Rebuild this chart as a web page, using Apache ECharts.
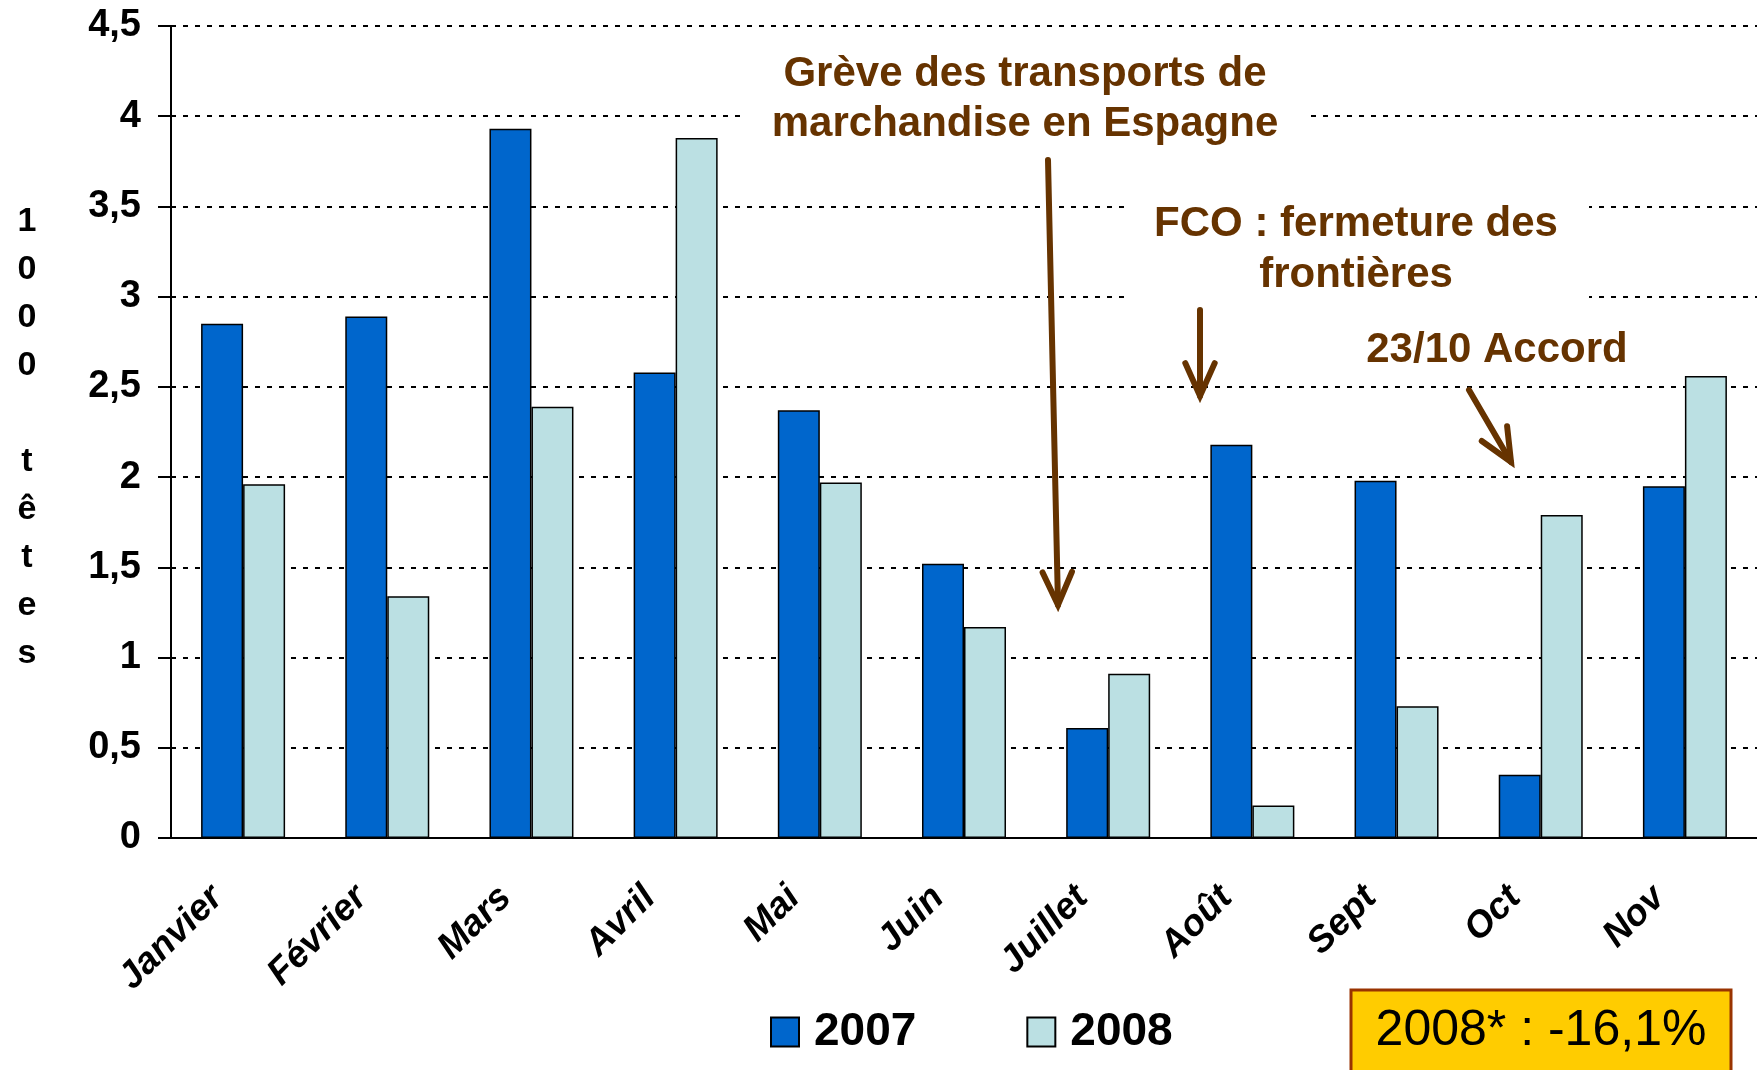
<!DOCTYPE html>
<html>
<head>
<meta charset="utf-8">
<script src="https://cdn.jsdelivr.net/npm/echarts@6/dist/echarts.min.js"></script>
<style>
  html, body { margin: 0; padding: 0; background: #fff; }
  #chart { width: 1757px; height: 1070px; }
</style>
</head>
<body>
<div id="chart"></div>
<script>
// data
const months = ['Janvier', 'Février', 'Mars', 'Avril', 'Mai', 'Juin', 'Juillet', 'Août', 'Sept', 'Oct', 'Nov']
const values2007 = [2.85, 2.89, 3.93, 2.58, 2.37, 1.52, 0.61, 2.18, 1.98, 0.35, 1.95]
const values2008 = [1.96, 1.34, 2.39, 3.88, 1.97, 1.17, 0.91, 0.18, 0.73, 1.79, 2.56]
const yTicks = { min: 0, max: 4.5, step: 0.5 }
const yTitle = '1000 têtes'

const FONT = "'Liberation Sans', Arial, sans-serif"
const BROWN = '#663300'

// arrow annotation : shaft + open head
function arrow(x1, y1, x2, y2) {
  const a = Math.atan2(y2 - y1, x2 - x1)
  const len = 36, spread = 0.42
  const w1 = [x2 - len * Math.cos(a - spread), y2 - len * Math.sin(a - spread)]
  const w2 = [x2 - len * Math.cos(a + spread), y2 - len * Math.sin(a + spread)]
  return [
    { type: 'line', z: 50, shape: { x1: x1, y1: y1, x2: x2, y2: y2 },
      style: { stroke: BROWN, lineWidth: 6, lineCap: 'round' } },
    { type: 'polyline', z: 50, shape: { points: [w1, [x2, y2], w2] },
      style: { stroke: BROWN, lineWidth: 6, lineCap: 'round', lineJoin: 'miter', fill: null } },
  ]
}

function note(text, x, y) {
  return {
    type: 'text', z: 60, x: x, y: y,
    style: { text: text, fill: BROWN, font: 'bold 42px ' + FONT, align: 'center', verticalAlign: 'middle' },
  }
}

function whiteBox(x, y, w, h) {
  return { type: 'rect', z: 40, shape: { x: x, y: y, width: w, height: h }, style: { fill: '#fff' } }
}

const myChart = echarts.init(document.getElementById('chart'), null, { renderer: 'canvas' })

myChart.setOption({
  backgroundColor: '#fff',
  animation: false,
  textStyle: { fontFamily: FONT },
  grid: { left: 171, top: 26, width: 1590, height: 812 },
  legend: {
    left: 765,
    top: 1004,
    itemWidth: 28,
    itemHeight: 29,
    itemGap: 110,
    icon: 'rect',
    textStyle: { fontSize: 46, fontWeight: 'bold', color: '#000', fontFamily: FONT, padding: [0, 0, 0, 10] },
    data: ['2007', '2008'],
  },
  xAxis: {
    type: 'category',
    data: months,
    axisLine: { lineStyle: { color: '#000', width: 2 } },
    axisTick: { length: 13, lineStyle: { color: '#000', width: 2 } },
    axisLabel: {
      rotate: 45,
      margin: 80,
      interval: 0,
      fontSize: 37,
      fontWeight: 'bold',
      fontStyle: 'italic',
      color: '#000',
      verticalAlign: 'bottom',
      padding: [0, 0, 18, 0],
    },
  },
  yAxis: {
    type: 'value',
    min: yTicks.min,
    max: yTicks.max,
    interval: yTicks.step,
    axisLine: { show: true, lineStyle: { color: '#000', width: 2 } },
    axisTick: { show: true, length: 13, lineStyle: { color: '#000', width: 2 } },
    axisLabel: {
      margin: 30,
      fontSize: 38,
      fontWeight: 'bold',
      color: '#000',
      formatter: (v) => String(v).replace('.', ','),
    },
    splitLine: { lineStyle: { color: '#000', width: 2, type: [5, 7] } },
  },
  series: [
    {
      name: '2007',
      type: 'bar',
      data: values2007,
      barWidth: 42,
      barGap: '0%',
      itemStyle: { color: '#0066CC', borderColor: '#000', borderWidth: 1.5 },
    },
    {
      name: '2008',
      type: 'bar',
      data: values2008,
      barWidth: 42,
      itemStyle: { color: '#BBE0E3', borderColor: '#000', borderWidth: 1.5 },
    },
  ],
  graphic: [
    // y axis title, one letter per line
    {
      type: 'text', x: 27, y: 198,
      style: {
        text: yTitle.split('').join('\n'),
        fill: '#000', font: 'bold 34px ' + FONT, lineHeight: 48, align: 'center', verticalAlign: 'top',
      },
    },
    // label backgrounds hide the grid lines like in the slide
    whiteBox(740, 45, 571, 105),
    whiteBox(1124, 185, 465, 125),
    note('Grève des transports de', 1025, 74),
    note('marchandise en Espagne', 1025, 124),
    note('FCO : fermeture des', 1356, 224),
    note('frontières', 1356, 275),
    note('23/10 Accord', 1497, 350),
    ...arrow(1048, 160, 1058, 605),
    ...arrow(1200, 310, 1200, 396),
    ...arrow(1469, 390, 1511, 462),
    {
      type: 'rect', z: 40,
      shape: { x: 1351, y: 990, width: 380, height: 90 },
      style: { fill: '#FFCC00', stroke: '#993300', lineWidth: 3 },
    },
    {
      type: 'text', z: 60, x: 1541, y: 1031,
      style: { text: '2008* : -16,1%', fill: '#000', font: '50px ' + FONT, align: 'center', verticalAlign: 'middle' },
    },
  ],
})
</script>
</body>
</html>
